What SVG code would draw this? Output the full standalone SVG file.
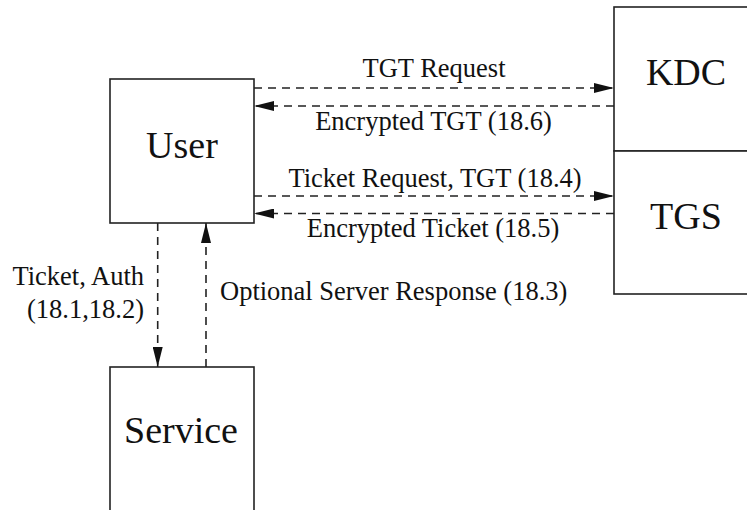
<svg xmlns="http://www.w3.org/2000/svg" width="747" height="510" viewBox="0 0 747 510">
<style>
.box{fill:#fff;stroke:#222;stroke-width:1.6}
.big{font-family:'Liberation Serif','Times New Roman',serif;font-size:38px;fill:#111;text-anchor:middle}
.lbl{font-family:'Liberation Serif','Times New Roman',serif;font-size:26.5px;fill:#111}
.c{text-anchor:middle}
.r{text-anchor:end}
.conn{stroke:#222;stroke-width:1.6;stroke-dasharray:8,6;fill:none;marker-end:url(#ah)}
</style>
<defs>
<marker id="ah" markerUnits="userSpaceOnUse" markerWidth="20" markerHeight="10" refX="20" refY="5" orient="auto">
<path d="M0,0 L20,5 L0,10 z" fill="#111"/>
</marker>
</defs>
<rect width="747" height="510" fill="#fff"/>
<g id="user"><rect class="box" x="110" y="79" width="144" height="144"/><text class="big" x="182" y="158">User</text></g>
<g id="kdc"><rect class="box" x="614" y="7" width="150" height="144"/><text class="big" x="686" y="85">KDC</text></g>
<g id="tgs"><rect class="box" x="614" y="151" width="150" height="143"/><text class="big" x="686" y="229">TGS</text></g>
<g id="service"><rect class="box" x="110" y="367" width="144" height="160"/><text class="big" x="181" y="443">Service</text></g>
<g id="connectors">
<line class="conn" x1="254" y1="88" x2="614" y2="88"/>
<line class="conn" x1="614" y1="106" x2="254" y2="106"/>
<line class="conn" x1="254" y1="196" x2="614" y2="196"/>
<line class="conn" x1="614" y1="213.5" x2="254" y2="213.5"/>
<line class="conn" x1="157.7" y1="223" x2="157.7" y2="367"/>
<line class="conn" x1="206" y1="367" x2="206" y2="223"/>
<text class="lbl c" x="434" y="77">TGT Request</text>
<text class="lbl c" x="433.5" y="130">Encrypted TGT (18.6)</text>
<text class="lbl c" x="435" y="187">Ticket Request, TGT (18.4)</text>
<text class="lbl c" x="433" y="237">Encrypted Ticket (18.5)</text>
<text class="lbl r" x="144" y="285">Ticket, Auth</text>
<text class="lbl r" x="144" y="318">(18.1,18.2)</text>
<text class="lbl" x="220" y="300">Optional Server Response (18.3)</text>
</g>
</svg>
